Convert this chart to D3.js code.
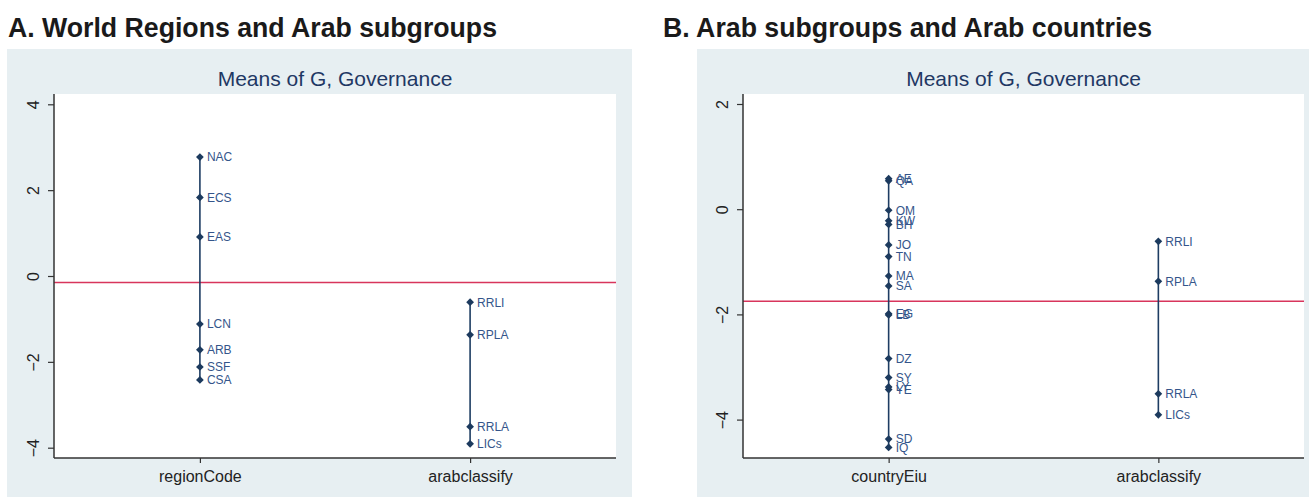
<!DOCTYPE html>
<html>
<head>
<meta charset="utf-8">
<script src="https://cdn.jsdelivr.net/npm/d3@7"></script>
<style>
  html, body { margin: 0; padding: 0; background: #ffffff; }
  svg { display: block; font-family: "Liberation Sans", Arial, sans-serif; }
</style>
</head>
<body>
<svg id="chart" width="1309" height="498"></svg>
<script>
// Mean governance score (G) by group
const regionCodes = ["NAC", "ECS", "EAS", "LCN", "ARB", "SSF", "CSA"];
const regionMeans = [2.77, 1.83, 0.91, -1.12, -1.72, -2.12, -2.42];

const arabGroups = ["RRLI", "RPLA", "RRLA", "LICs"];
const arabGroupMeans = [-0.61, -1.37, -3.51, -3.91];

const countryCodes = ["AE", "QA", "OM", "KW", "BH", "JO", "TN", "MA", "SA",
                      "EG", "LB", "DZ", "SY", "LY", "YE", "SD", "IQ"];
const countryMeans = [0.58, 0.54, -0.02, -0.22, -0.29, -0.68, -0.90, -1.27, -1.46,
                      -1.99, -2.01, -2.84, -3.20, -3.38, -3.43, -4.37, -4.53];

const worldMean = -0.15;
const arabMean = -1.75;

const panelACategories = ["regionCode", "arabclassify"];
const panelBCategories = ["countryEiu", "arabclassify"];
const panelATicks = [-4, -2, 0, 2, 4];
const panelBTicks = [-4, -2, 0, 2];
const panelADomain = [-4.24, 4.24];
const panelBDomain = [-4.73, 2.19];

const svg = d3.select("#chart");

function drawPanel(opts) {
  const g = svg.append("g");

  // panel heading
  g.append("text")
    .attr("x", opts.headX).attr("y", 37)
    .attr("font-size", 27).attr("font-weight", "bold").attr("fill", "#1a1a1a")
    .attr("textLength", 489).attr("lengthAdjust", "spacingAndGlyphs")
    .text(opts.heading);

  // graph region background
  g.append("rect")
    .attr("x", opts.bg[0]).attr("y", 49)
    .attr("width", opts.bg[1] - opts.bg[0]).attr("height", 448)
    .attr("fill", "#e7eff2");

  const x0 = opts.plot[0], x1 = opts.plot[1], y0 = 94, y1 = 458;

  g.append("rect")
    .attr("x", x0).attr("y", y0).attr("width", x1 - x0).attr("height", y1 - y0)
    .attr("fill", "#ffffff");

  g.append("text")
    .attr("x", (x0 + x1) / 2).attr("y", 86)
    .attr("text-anchor", "middle").attr("font-size", 21).attr("fill", "#1f3864")
    .text("Means of G, Governance");

  const x = d3.scalePoint().domain(opts.categories).range([x0, x1]).padding(0.54);
  const y = d3.scaleLinear().domain(opts.domain).range([y1, y0]);

  // reference line: overall mean
  g.append("line")
    .attr("x1", x0).attr("x2", x1)
    .attr("y1", y(opts.mean)).attr("y2", y(opts.mean))
    .attr("stroke", "#d8355c").attr("stroke-width", 1.6);

  // columns of group means
  opts.columns.forEach(col => {
    const cx = x(col.category);
    const ext = d3.extent(col.values);
    g.append("line")
      .attr("x1", cx).attr("x2", cx)
      .attr("y1", y(ext[1])).attr("y2", y(ext[0]))
      .attr("stroke", "#1e3d63").attr("stroke-width", 1.6);

    const marker = d3.symbol().type(d3.symbolSquare).size(30);
    const pts = g.append("g").selectAll("g")
      .data(col.labels.map((l, i) => ({ label: l, value: col.values[i] })))
      .join("g")
      .attr("transform", d => `translate(${cx},${y(d.value)})`);
    pts.append("path").attr("d", marker).attr("transform", "rotate(45)").attr("fill", "#1c3a5e");
    pts.append("text")
      .attr("x", 7).attr("dy", "0.36em")
      .attr("font-size", 12).attr("fill", "#34558a")
      .text(d => d.label);
  });

  // y axis
  const yAxis = g.append("g")
    .attr("transform", `translate(${x0},0)`)
    .call(d3.axisLeft(y).tickValues(opts.ticks).tickSize(6).tickPadding(0).tickFormat(d3.format("d")));
  yAxis.select(".domain").attr("stroke", "#333").attr("stroke-width", 1.5)
    .attr("d", `M0,${y0}V${y1}`);
  yAxis.selectAll(".tick line").attr("stroke", "#333").attr("stroke-width", 1.2);
  yAxis.selectAll(".tick text")
    .attr("transform", "translate(-15,0) rotate(-90)")
    .attr("x", 0).attr("dy", 0)
    .attr("text-anchor", "middle")
    .attr("font-size", 16).attr("fill", "#222")
    .attr("font-family", "Liberation Sans, Arial, sans-serif");

  // x axis
  const xAxis = g.append("g")
    .attr("transform", `translate(0,${y1})`)
    .call(d3.axisBottom(x).tickSize(5).tickPadding(6));
  xAxis.select(".domain").attr("stroke", "#333").attr("stroke-width", 1.5)
    .attr("d", `M${x0},0H${x1}`);
  xAxis.selectAll(".tick line").attr("stroke", "#333").attr("stroke-width", 1.2);
  xAxis.selectAll(".tick text")
    .attr("y", 24).attr("dy", 0)
    .attr("font-size", 16).attr("fill", "#222")
    .attr("font-family", "Liberation Sans, Arial, sans-serif");
}

drawPanel({
  heading: "A. World Regions and Arab subgroups",
  headX: 8,
  bg: [7, 632],
  plot: [54, 616],
  categories: panelACategories,
  domain: panelADomain,
  ticks: panelATicks,
  mean: worldMean,
  columns: [
    { category: "regionCode", labels: regionCodes, values: regionMeans },
    { category: "arabclassify", labels: arabGroups, values: arabGroupMeans }
  ]
});

drawPanel({
  heading: "B. Arab subgroups and Arab countries",
  headX: 663,
  bg: [697, 1309],
  plot: [743, 1304],
  categories: panelBCategories,
  domain: panelBDomain,
  ticks: panelBTicks,
  mean: arabMean,
  columns: [
    { category: "countryEiu", labels: countryCodes, values: countryMeans },
    { category: "arabclassify", labels: arabGroups, values: arabGroupMeans }
  ]
});
</script>
</body>
</html>
